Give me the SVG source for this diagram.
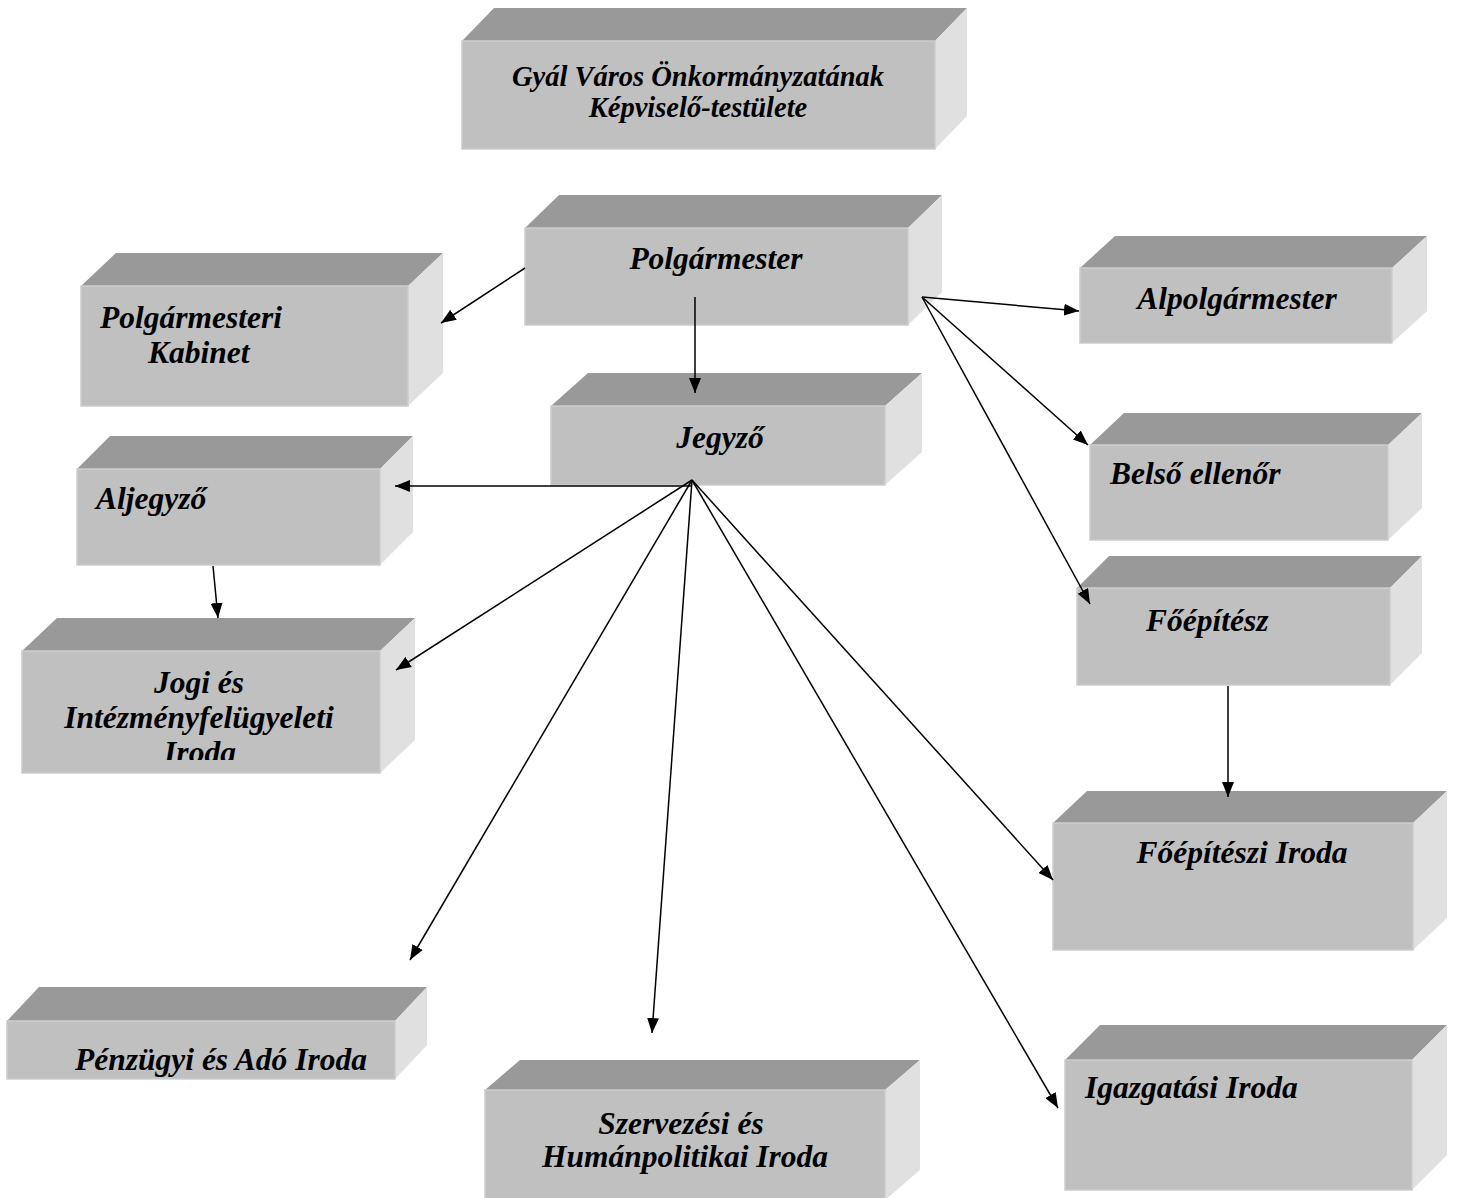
<svg xmlns="http://www.w3.org/2000/svg" width="1459" height="1198" viewBox="0 0 1459 1198">
<style>
.front{fill:#c0c0c0;stroke:#cdcdcd;stroke-width:1.5}
.top{fill:#999999}
.side{fill:#e0e0e0}
text{font-family:"Liberation Serif","Times New Roman",serif;font-weight:bold;font-style:italic;font-size:31.5px;fill:#000}
.c{text-anchor:middle}
.title{font-size:28.5px}
.conn line{stroke:#000;stroke-width:1.5;marker-end:url(#arr)}
</style>
<defs>
<marker id="arr" markerUnits="userSpaceOnUse" markerWidth="15" markerHeight="12" refX="15" refY="6" orient="auto">
<path d="M0,0 L15,6 L0,12 z" fill="#000"/>
</marker>
<clipPath id="clipJogi"><rect x="22" y="651" width="358" height="109"/></clipPath>
</defs>
<rect width="1459" height="1198" fill="#fff"/>

<g id="node-kepviselo">
<polygon class="top" points="462,41 494,8 967,8 935,41"/>
<polygon class="side" points="935,41 967,8 967,116 935,149"/>
<rect class="front" x="462" y="41" width="473" height="108"/>
<text class="c title" x="698" y="86">Gyál Város Önkormányzatának</text>
<text class="c title" x="698" y="117">Képviselő-testülete</text>
</g>

<g id="node-polgarmester">
<polygon class="top" points="525,228 559,195 942,195 908,228"/>
<polygon class="side" points="908,228 942,195 942,292 908,325"/>
<rect class="front" x="525" y="228" width="383" height="97"/>
<text class="c" x="716" y="269">Polgármester</text>
</g>

<g id="node-kabinet">
<polygon class="top" points="81,286 116,253 443,253 408,286"/>
<polygon class="side" points="408,286 443,253 443,373 408,406"/>
<rect class="front" x="81" y="286" width="327" height="120"/>
<text x="100" y="328">Polgármesteri</text>
<text x="148" y="363">Kabinet</text>
</g>

<g id="node-alpolgarmester">
<polygon class="top" points="1080,268 1115,236 1427,236 1392,268"/>
<polygon class="side" points="1392,268 1427,236 1427,311 1392,343"/>
<rect class="front" x="1080" y="268" width="312" height="75"/>
<text class="c" x="1237" y="309">Alpolgármester</text>
</g>

<g id="node-jegyzo">
<polygon class="top" points="551,406 588,373 922,373 885,406"/>
<polygon class="side" points="885,406 922,373 922,452 885,485"/>
<rect class="front" x="551" y="406" width="334" height="79"/>
<text class="c" x="720" y="448">Jegyző</text>
</g>

<g id="node-belso">
<polygon class="top" points="1090,445 1124,413 1422,413 1388,445"/>
<polygon class="side" points="1388,445 1422,413 1422,508 1388,540"/>
<rect class="front" x="1090" y="445" width="298" height="95"/>
<text x="1110" y="484">Belső ellenőr</text>
</g>

<g id="node-aljegyzo">
<polygon class="top" points="77,469 110,436 413,436 380,469"/>
<polygon class="side" points="380,469 413,436 413,532 380,565"/>
<rect class="front" x="77" y="469" width="303" height="96"/>
<text x="96" y="509">Aljegyző</text>
</g>

<g id="node-foepitesz">
<polygon class="top" points="1077,588 1109,556 1422,556 1390,588"/>
<polygon class="side" points="1390,588 1422,556 1422,653 1390,685"/>
<rect class="front" x="1077" y="588" width="313" height="97"/>
<text x="1146" y="631">Főépítész</text>
</g>

<g id="node-jogi">
<polygon class="top" points="22,651 57,618 415,618 380,651"/>
<polygon class="side" points="380,651 415,618 415,740 380,773"/>
<rect class="front" x="22" y="651" width="358" height="122"/>
<g clip-path="url(#clipJogi)">
<text class="c" x="199" y="693">Jogi és</text>
<text class="c" x="199" y="728">Intézményfelügyeleti</text>
<text class="c" x="200" y="763">Iroda</text>
</g>
</g>

<g id="node-foepiteszi-iroda">
<polygon class="top" points="1053,823 1087,791 1447,791 1413,823"/>
<polygon class="side" points="1413,823 1447,791 1447,918 1413,950"/>
<rect class="front" x="1053" y="823" width="360" height="127"/>
<text class="c" x="1242" y="863">Főépítészi Iroda</text>
</g>

<g id="node-penzugyi">
<polygon class="top" points="7,1021 39,987 427,987 395,1021"/>
<polygon class="side" points="395,1021 427,987 427,1045 395,1079"/>
<rect class="front" x="7" y="1021" width="388" height="58"/>
<text x="75" y="1070">Pénzügyi és Adó Iroda</text>
</g>

<g id="node-szervezesi">
<polygon class="top" points="485,1090 520,1060 920,1060 885,1090"/>
<polygon class="side" points="885,1090 920,1060 920,1170 885,1200"/>
<rect class="front" x="485" y="1090" width="400" height="112"/>
<text class="c" x="681" y="1134">Szervezési és</text>
<text class="c" x="685" y="1167">Humánpolitikai Iroda</text>
</g>

<g id="node-igazgatasi">
<polygon class="top" points="1065,1060 1100,1025 1447,1025 1412,1060"/>
<polygon class="side" points="1412,1060 1447,1025 1447,1155 1412,1190"/>
<rect class="front" x="1065" y="1060" width="347" height="130"/>
<text x="1085" y="1098">Igazgatási Iroda</text>
</g>

<g id="connectors" class="conn">
<line x1="525" y1="268" x2="441" y2="323"/>
<line x1="695" y1="297" x2="695" y2="393"/>
<line x1="922" y1="297" x2="1079" y2="311"/>
<line x1="922" y1="297" x2="1088" y2="445"/>
<line x1="922" y1="297" x2="1090" y2="604"/>
<line x1="1228" y1="686" x2="1228" y2="797"/>
<line x1="691" y1="486" x2="395" y2="486"/>
<line x1="692" y1="480" x2="396" y2="670"/>
<line x1="692" y1="480" x2="410" y2="960"/>
<line x1="692" y1="480" x2="652" y2="1033"/>
<line x1="692" y1="480" x2="1053" y2="880"/>
<line x1="692" y1="480" x2="1058" y2="1108"/>
<line x1="213" y1="566" x2="218" y2="618"/>
</g>
</svg>
